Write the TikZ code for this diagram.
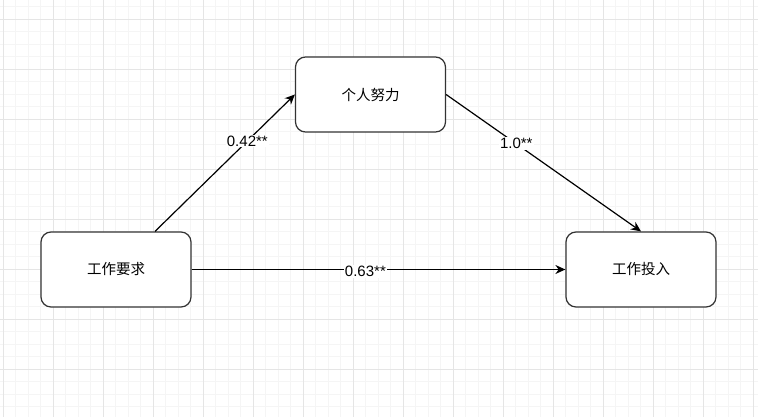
\documentclass[tikz,border=0pt]{standalone}
\usepackage{fontspec}
\setmainfont{Liberation Sans}
\newfontfamily\cjk{Noto Sans CJK SC}
\usepackage{tikz}
\usetikzlibrary{arrows.meta}
\definecolor{gridminor}{HTML}{F5F5F5}
\definecolor{gridmajor}{HTML}{E5E5E5}
\definecolor{boxline}{HTML}{333333}

\begin{document}
\begin{tikzpicture}[x=1pt,y=-1pt,
		box/.style={draw=boxline,line width=1.2pt,rounded corners=10pt,fill=white,minimum width=150pt,minimum height=75pt,font=\cjk\fontsize{14.5}{16}\selectfont},
		link/.style={-{Stealth[length=10pt,width=9pt]},line width=1.2pt},
		coef/.style={fill=white,inner sep=1pt,font=\fontsize{15}{16}\selectfont}]
			\useasboundingbox (0,0) rectangle (758,417);
			% grid
			\clip (0,0) rectangle (758,417);
			\foreach \i in {0,...,61}
				\draw[gridminor,line width=0.8pt] ({3+12.5*\i},0) -- ({3+12.5*\i},417);
			\foreach \j in {-2,...,32}
				\draw[gridminor,line width=0.8pt] (0,{19+12.5*\j}) -- (758,{19+12.5*\j});
			\foreach \i in {0,...,15}
				\draw[gridmajor,line width=0.8pt] ({3+50*\i},0) -- ({3+50*\i},417);
			\foreach \j in {-1,...,8}
				\draw[gridmajor,line width=0.8pt] (0,{19+50*\j}) -- (758,{19+50*\j});
			
			\node[box] (effort) at (370.5,94.5) {个人努力};
			\node[box] (demand) at (116,269.5) {工作要求};
			\node[box] (engage) at (641,269.5) {工作投入};
			
			\draw[link] ([xshift=39pt]demand.north) to node[coef,pos=0.66]{0.42**} (effort.west);
			\draw[link] (effort.east) to node[coef,pos=0.36]{1.0**} (engage.north);
			\draw[link] (demand.east) to node[coef,pos=0.465,yshift=-2pt]{0.63**} (engage.west);
			
		\end{tikzpicture}
\end{document}
